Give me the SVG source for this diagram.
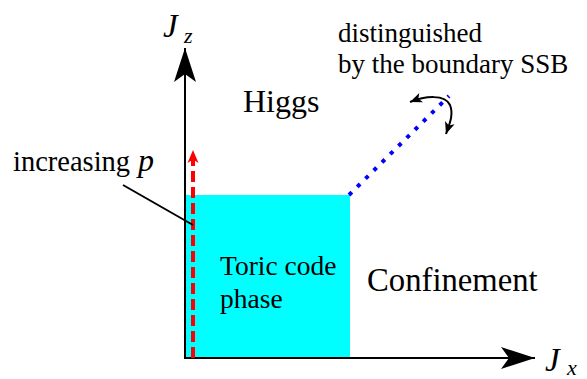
<svg xmlns="http://www.w3.org/2000/svg" width="587" height="379" viewBox="0 0 587 379">
<style>
text { font-family: 'Liberation Serif', 'Times New Roman', serif; fill: #000; }
.lbl { font-size: 32.7px; }
.note { font-size: 27px; }
.mid { font-size: 27.5px; }
.it { font-style: italic; }
.axis { stroke: #000; stroke-width: 2; fill: none; }
</style>
<defs>
<marker id="axhead" markerUnits="userSpaceOnUse" markerWidth="40" markerHeight="26" refX="34" refY="11" orient="auto" overflow="visible">
<path d="M34,11 L0,0 L8,11 L0,22 Z" fill="#000"/>
</marker>
<marker id="redhead" markerUnits="userSpaceOnUse" markerWidth="16" markerHeight="12" refX="13" refY="5.5" orient="auto" overflow="visible">
<path d="M13,5.5 L0,0 L3.5,5.5 L0,11 Z" fill="#ff0000"/>
</marker>
<marker id="smallhead" markerUnits="userSpaceOnUse" markerWidth="14" markerHeight="12" refX="12" refY="5" orient="auto-start-reverse" overflow="visible">
<path d="M12,5 L0,0 L3,5 L0,10 Z" fill="#000"/>
</marker>
</defs>

<g id="toric-region">
<rect x="186" y="195" width="164" height="163" fill="#00ffff"/>
<text class="mid" x="220" y="275">Toric code</text>
<text class="mid" x="220" y="308">phase</text>
</g>

<g id="higgs">
<text class="lbl" style="font-size:32px" x="243" y="112">Higgs</text>
</g>

<g id="confinement">
<text class="lbl" x="367" y="291">Confinement</text>
</g>

<g id="axis-jz">
<text class="lbl it" style="font-size:33px" x="163" y="37">J</text>
<text class="it" style="font-size:22px" x="184" y="43">z</text>
</g>

<g id="axis-jx">
<text class="lbl it" style="font-size:33px" x="545" y="371">J</text>
<text class="it" style="font-size:22px" x="567" y="375">x</text>
</g>

<g id="note-ssb">
<text class="note" x="338" y="42">distinguished</text>
<text class="note" x="338" y="73">by the boundary SSB</text>
</g>

<g id="note-p">
<text style="font-size:28.5px" x="13" y="171">increasing</text>
<text class="it" style="font-size:32px" x="138" y="171">p</text>
</g>

<g id="connectors">
<line class="axis" x1="185" y1="359" x2="185" y2="48" marker-end="url(#axhead)"/>
<line class="axis" x1="184" y1="358" x2="535" y2="358" marker-end="url(#axhead)"/>
<line x1="193" y1="358" x2="193" y2="150" stroke="#ff0000" stroke-width="4" stroke-dasharray="11 5" marker-end="url(#redhead)"/>
<line x1="349" y1="195" x2="449" y2="96" stroke="#0000ff" stroke-width="4" stroke-dasharray="4 7.6"/>
<line x1="123" y1="185" x2="193" y2="225" stroke="#000" stroke-width="2"/>
<path d="M410,102 C425,96 445,94 450,105 C454,115 449,125 446,134" fill="none" stroke="#000" stroke-width="2" marker-start="url(#smallhead)" marker-end="url(#smallhead)"/>
</g>
</svg>
